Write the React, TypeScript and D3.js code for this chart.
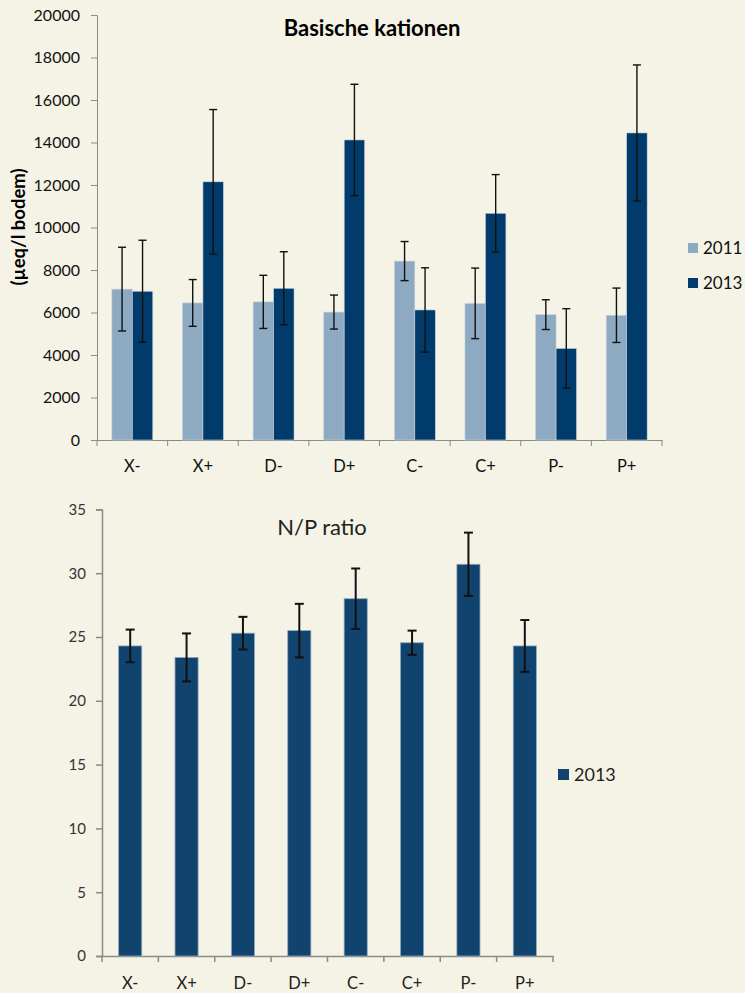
import React, { useEffect, useRef } from 'react'
import * as d3 from 'd3'

// categories shared by both charts
const categories = ['X-', 'X+', 'D-', 'D+', 'C-', 'C+', 'P-', 'P+']

// top chart: basische kationen (µeq/l bodem)
const years = ['2011', '2013']
const kat2011 = [7100, 6450, 6500, 6020, 8420, 6430, 5900, 5870]
const kat2013 = [7000, 12150, 7140, 14120, 6120, 10670, 4310, 14450]
const katErr2011 = [1970, 1100, 1250, 800, 920, 1660, 700, 1280]
const katErr2013 = [2400, 3400, 1720, 2620, 1985, 1820, 1870, 3200]
const katTicks = [0, 2000, 4000, 6000, 8000, 10000, 12000, 14000, 16000, 18000, 20000]

// bottom chart: N/P ratio
const npYears = ['2013']
const np2013 = [24.3, 23.4, 25.3, 25.5, 28.0, 24.55, 30.7, 24.3]
const npErr2013 = [1.28, 1.88, 1.28, 2.1, 2.37, 0.95, 2.48, 2.03]
const npTicks = [0, 5, 10, 15, 20, 25, 30, 35]

const BG = '#f5f3e5'
const LIGHT = '#8eaac2'
const DARK = '#013b6b'
const NPBLUE = '#10446f'
const AXIS = '#8a8a8a'
const FONT = 'Lato, "Open Sans", sans-serif'

export default function App() {
  const ref = useRef<SVGSVGElement>(null)

  useEffect(() => {
    const svg = d3.select(ref.current)
    svg.selectAll('*').remove()
    svg.append('rect').attr('width', 745).attr('height', 993).attr('fill', BG)

    // ---------- top chart ----------
    const top = svg.append('g')
    const x = d3.scaleBand().domain(categories).range([97, 662]).padding(0)
    const y = d3.scaleLinear().domain([0, 20000]).range([440, 15])
    const sub = d3.scaleBand().domain(years).range([0, x.bandwidth() * 0.58])
    const off = x.bandwidth() * 0.21
    const colors: Record<string, string> = { '2011': LIGHT, '2013': DARK }

    const yAx = top.append('g').attr('transform', 'translate(97,0)')
      .call(d3.axisLeft(y).tickValues(katTicks).tickSize(6).tickPadding(11).tickFormat(d3.format('d')))
    yAx.select('.domain').attr('stroke', AXIS)
    yAx.selectAll('line').attr('stroke', AXIS)
    yAx.selectAll('text').attr('font-family', FONT).attr('font-size', 16).attr('fill', '#111')

    const xAx = top.append('g').attr('transform', 'translate(0,440)')
      .call(d3.axisBottom(x).tickSize(0).tickPadding(20))
    xAx.select('.domain').attr('stroke', AXIS)
    xAx.selectAll('text').attr('font-family', FONT).attr('font-size', 16.5).attr('fill', '#111')
    top.selectAll('line.xt').data(d3.range(categories.length + 1)).enter().append('line')
      .attr('x1', i => 97 + i * x.bandwidth()).attr('x2', i => 97 + i * x.bandwidth())
      .attr('y1', 440).attr('y2', 446).attr('stroke', AXIS)

    const rows = categories.map((c, i) => [
      { cat: c, key: '2011', v: kat2011[i], e: katErr2011[i] },
      { cat: c, key: '2013', v: kat2013[i], e: katErr2013[i] },
    ]).flat()

    top.selectAll('rect.bar').data(rows).enter().append('rect')
      .attr('x', d => x(d.cat)! + off + sub(d.key)!)
      .attr('y', d => y(d.v))
      .attr('width', sub.bandwidth())
      .attr('height', d => 440 - y(d.v))
      .attr('fill', d => colors[d.key])
      .attr('stroke', '#c9d4de').attr('stroke-width', 0.6)

    const eb = top.selectAll('g.err').data(rows).enter().append('g')
      .attr('stroke', '#111').attr('stroke-width', 1.4)
    const cx = (d: any) => x(d.cat)! + off + sub(d.key)! + sub.bandwidth() / 2
    eb.append('line').attr('x1', cx).attr('x2', cx).attr('y1', d => y(d.v + d.e)).attr('y2', d => y(d.v - d.e))
    eb.append('line').attr('x1', d => cx(d) - 4).attr('x2', d => cx(d) + 4).attr('y1', d => y(d.v + d.e)).attr('y2', d => y(d.v + d.e))
    eb.append('line').attr('x1', d => cx(d) - 4).attr('x2', d => cx(d) + 4).attr('y1', d => y(d.v - d.e)).attr('y2', d => y(d.v - d.e))

    top.append('text').attr('x', 372).attr('y', 36).attr('text-anchor', 'middle')
      .attr('font-family', FONT).attr('font-weight', 'bold').attr('font-size', 22).text('Basische kationen')
    top.append('text').attr('transform', 'translate(25,227) rotate(-90)').attr('text-anchor', 'middle')
      .attr('font-family', FONT).attr('font-weight', 'bold').attr('font-size', 18.5).text('(µeq/l bodem)')

    const leg = top.selectAll('g.leg').data(years).enter().append('g')
      .attr('transform', (d, i) => `translate(688,${243 + i * 35})`)
    leg.append('rect').attr('width', 10).attr('height', 10).attr('fill', d => colors[d])
    leg.append('text').attr('x', 15).attr('y', 11).attr('font-family', FONT).attr('font-size', 17).attr('fill', '#111').text(d => d)

    // ---------- bottom chart ----------
    const bot = svg.append('g')
    const x2 = d3.scaleBand().domain(categories).range([102, 553]).padding(0)
    const y2 = d3.scaleLinear().domain([0, 35]).range([956, 509.4])
    const bw = x2.bandwidth() * 0.41

    const yAx2 = bot.append('g').attr('transform', 'translate(102,0)')
      .call(d3.axisLeft(y2).tickValues(npTicks).tickSize(6).tickPadding(10))
    yAx2.select('.domain').attr('stroke', AXIS).attr('stroke-width', 1.5)
    yAx2.selectAll('line').attr('stroke', AXIS).attr('stroke-width', 1.5)
    yAx2.selectAll('text').attr('font-family', FONT).attr('font-size', 15).attr('fill', '#333')

    const xAx2 = bot.append('g').attr('transform', 'translate(0,956)')
      .call(d3.axisBottom(x2).tickSize(0).tickPadding(21))
    xAx2.select('.domain').attr('stroke', AXIS).attr('stroke-width', 1.5)
    xAx2.selectAll('text').attr('font-family', FONT).attr('font-size', 16.5).attr('fill', '#222')
    bot.selectAll('line.xt').data(d3.range(categories.length + 1)).enter().append('line')
      .attr('x1', i => 102 + i * x2.bandwidth()).attr('x2', i => 102 + i * x2.bandwidth())
      .attr('y1', 956).attr('y2', 962).attr('stroke', AXIS).attr('stroke-width', 1.5)

    const rows2 = categories.map((c, i) => ({ cat: c, v: np2013[i], e: npErr2013[i] }))
    bot.selectAll('rect.bar').data(rows2).enter().append('rect')
      .attr('x', d => x2(d.cat)! + (x2.bandwidth() - bw) / 2)
      .attr('y', d => y2(d.v))
      .attr('width', bw)
      .attr('height', d => 956 - y2(d.v))
      .attr('fill', NPBLUE)
      .attr('stroke', '#8fa9bd').attr('stroke-width', 0.8)

    const eb2 = bot.selectAll('g.err').data(rows2).enter().append('g')
      .attr('stroke', '#111').attr('stroke-width', 2)
    const cx2 = (d: any) => x2(d.cat)! + x2.bandwidth() / 2
    eb2.append('line').attr('x1', cx2).attr('x2', cx2).attr('y1', d => y2(d.v + d.e)).attr('y2', d => y2(d.v - d.e))
    eb2.append('line').attr('x1', d => cx2(d) - 4.5).attr('x2', d => cx2(d) + 4.5).attr('y1', d => y2(d.v + d.e)).attr('y2', d => y2(d.v + d.e))
    eb2.append('line').attr('x1', d => cx2(d) - 4.5).attr('x2', d => cx2(d) + 4.5).attr('y1', d => y2(d.v - d.e)).attr('y2', d => y2(d.v - d.e))

    bot.append('text').attr('x', 322).attr('y', 535).attr('text-anchor', 'middle')
      .attr('font-family', FONT).attr('font-size', 22).attr('fill', '#222').text('N/P ratio')

    const leg2 = bot.selectAll('g.leg').data(npYears).enter().append('g')
      .attr('transform', 'translate(558,769)')
    leg2.append('rect').attr('width', 11).attr('height', 11).attr('fill', NPBLUE)
    leg2.append('text').attr('x', 16).attr('y', 12).attr('font-family', FONT).attr('font-size', 18).attr('fill', '#222').text(d => d)
  }, [])

  return (
    <svg ref={ref} width={745} height={993}
      style={{ position: 'absolute', left: 0, top: 0, display: 'block' }} />
  )
}
